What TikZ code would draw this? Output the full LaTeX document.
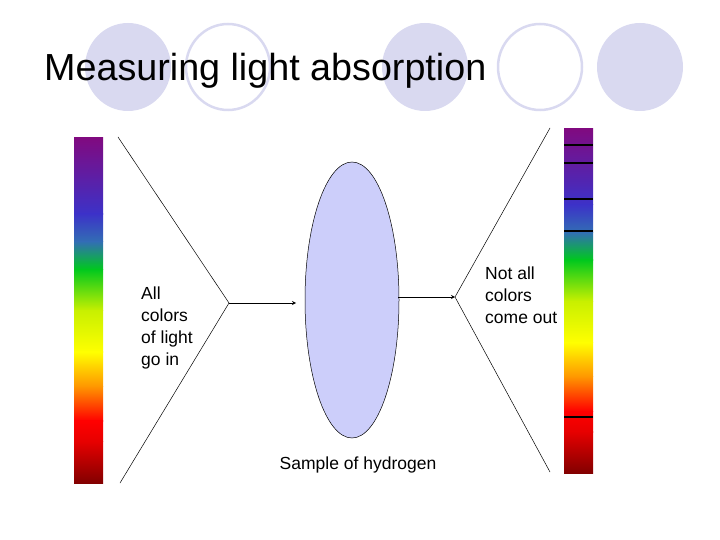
\documentclass[tikz,border=0pt]{standalone}
\usepackage{fontspec}
\setmainfont{Liberation Sans}
\usetikzlibrary{shapes.geometric}
\definecolor{circ}{RGB}{217,217,240}
\definecolor{ell}{RGB}{204,206,250}
\definecolor{c0}{RGB}{128,10,128}
\definecolor{c1}{RGB}{60,50,200}
\definecolor{c2}{RGB}{50,110,180}
\definecolor{c3}{RGB}{0,200,30}
\definecolor{c4}{RGB}{200,240,0}
\definecolor{c5}{RGB}{255,255,0}
\definecolor{c6}{RGB}{255,150,0}
\definecolor{c7}{RGB}{255,0,0}
\definecolor{c8}{RGB}{230,0,0}
\definecolor{c9}{RGB}{130,0,0}
\newcommand{\specbar}[3]{% x0, ytop, height
 \foreach \a/\b/\ca/\cb in {0/0.22/c0/c1,0.22/0.3/c1/c2,0.3/0.38/c2/c3,0.38/0.5/c3/c4,0.5/0.62/c4/c5,0.62/0.72/c5/c6,0.72/0.82/c6/c7,0.82/0.88/c7/c8,0.88/1/c8/c9}
  \shade[top color=\ca,bottom color=\cb,shading angle=0] (#1,{#2+\a*#3}) rectangle ({#1+29},{#2+\b*#3+0.3});}
\begin{document}
\begin{tikzpicture}[x=1pt,y=-1pt,
  lbl/.style={font=\fontsize{17.5}{22}\selectfont,align=left,inner sep=0},
  ray/.style={black,line width=0.5pt},
  arr/.style={-stealth,line width=0.8pt}]
\useasboundingbox (0,0) rectangle (720,540);
\fill[circ] (128,67) ellipse (43 and 44);
\draw[circ,line width=2.5pt] (228,67) ellipse (42 and 43);
\fill[circ] (425,67) ellipse (43 and 44);
\draw[circ,line width=2.5pt] (540,67) ellipse (42 and 43);
\fill[circ] (640,67) ellipse (43 and 44);
\node[anchor=base west,inner sep=0,font=\fontsize{37.7}{40}\selectfont] (title) at (44,81) {Measuring light absorption};
\specbar{74}{138}{345}
\specbar{564}{129}{344}
\foreach \y in {145,163,199,231,417} \draw[line width=2pt] (564,\y) -- (593,\y);
\node[draw=black,fill=ell,ellipse,minimum width=94,minimum height=276,inner sep=0,line width=0.5pt] (samp) at (352,300) {};
\coordinate (lf) at (229,303);
\coordinate (lt) at (118,137);
\coordinate (lb) at (120,483);
\coordinate (rf) at (455,297);
\coordinate (rt) at (550,128);
\coordinate (rb) at (550,472);
\coordinate (ra) at (398,297);
\coordinate (la) at (296,303);
\draw[ray] (lt) -- (lf) -- (lb);
\draw[ray] (rt) -- (rf) -- (rb);
\draw[arr] (lf) -- (la);
\draw[arr] (ra) -- (rf);
\node[lbl,anchor=north west] (in) at (141,287) {All\\colors\\of light\\go in};
\node[lbl,anchor=north west] (out) at (485,267) {Not all\\colors\\come out};
\node[lbl,anchor=base] (cap) at (358,469) {Sample of hydrogen};
\end{tikzpicture}
\end{document}
